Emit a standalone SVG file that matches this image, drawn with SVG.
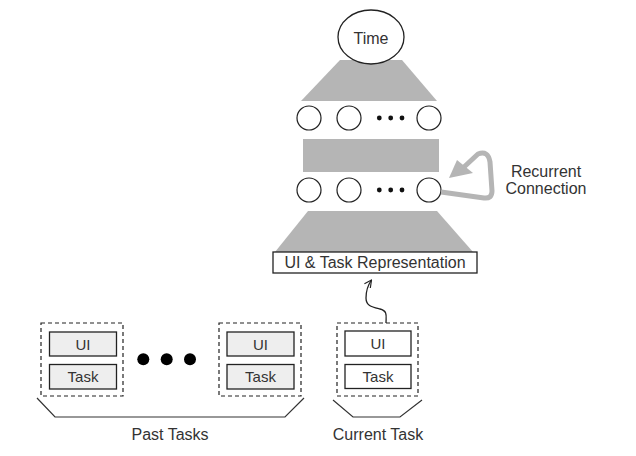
<svg xmlns="http://www.w3.org/2000/svg" width="636" height="456" viewBox="0 0 636 456">
  <defs>
    <style>
      .txt { font-family: "Liberation Sans", Arial, sans-serif; font-size: 16px; fill: #333; text-anchor: middle; }
      .sm { font-size: 15px; }
      .gray { fill: #b5b5b5; stroke: none; }
      .unit { fill: #fff; stroke: #222; stroke-width: 1.2; }
      .box { stroke: #222; stroke-width: 1.3; }
      .dash { fill: none; stroke: #222; stroke-width: 1.2; stroke-dasharray: 4 3; }
      .line { fill: none; stroke: #333; stroke-width: 1.2; }
    </style>
    <marker id="open" viewBox="0 0 10 10" refX="9" refY="5" markerWidth="9" markerHeight="9" orient="auto" markerUnits="userSpaceOnUse">
      <path d="M1,1 L9,5 L1,9" fill="none" stroke="#222" stroke-width="1.3"/>
    </marker>
  </defs>
  <rect width="636" height="456" fill="#fff"/>

  <g id="network">
    <polygon class="gray" points="340,60 402,60 437,101 301,101"/>
    <rect class="gray" x="303" y="139" width="136" height="33"/>
    <polygon class="gray" points="308,211 437,211 473,252 275,252"/>
  </g>

  <g id="time">
    <ellipse cx="371" cy="37" rx="33" ry="27" fill="#fff" stroke="#222" stroke-width="1.3"/>
    <text class="txt" x="371" y="44">Time</text>
  </g>

  <g id="layer1">
    <circle class="unit" cx="309" cy="118" r="12"/>
    <circle class="unit" cx="349" cy="118" r="12"/>
    <circle cx="379.3" cy="118" r="2.4" fill="#111"/>
    <circle cx="390.7" cy="118" r="2.4" fill="#111"/>
    <circle cx="402" cy="118" r="2.4" fill="#111"/>
    <circle class="unit" cx="429" cy="118" r="12"/>
  </g>

  <g id="layer2">
    <circle class="unit" cx="309" cy="190" r="12"/>
    <circle class="unit" cx="349" cy="190" r="12"/>
    <circle cx="379.3" cy="190" r="2.4" fill="#111"/>
    <circle cx="390.7" cy="190" r="2.4" fill="#111"/>
    <circle cx="402" cy="190" r="2.4" fill="#111"/>
    <circle class="unit" cx="429" cy="190" r="12"/>
  </g>

  <g id="representation">
    <rect class="box" x="273" y="252" width="204" height="21" fill="#fff"/>
    <text class="txt" x="375" y="268">UI &amp; Task Representation</text>
  </g>

  <g id="recurrent-label">
    <text class="txt" x="546" y="177">Recurrent</text>
    <text class="txt" x="546" y="194">Connection</text>
  </g>

  <g id="past-task-1">
    <rect class="dash" x="41" y="323" width="82" height="73"/>
    <rect class="box" x="49.5" y="332" width="67" height="24" fill="#eee"/>
    <text class="txt sm" x="83" y="350">UI</text>
    <rect class="box" x="49.5" y="364.5" width="67" height="24.5" fill="#eee"/>
    <text class="txt sm" x="83" y="382">Task</text>
  </g>

  <g id="ellipsis">
    <circle cx="143.3" cy="359.3" r="6" fill="#000"/>
    <circle cx="166.7" cy="359.3" r="6" fill="#000"/>
    <circle cx="190" cy="359.3" r="6" fill="#000"/>
  </g>

  <g id="past-task-n">
    <rect class="dash" x="219" y="323" width="82" height="73"/>
    <rect class="box" x="227" y="332" width="67" height="24" fill="#eee"/>
    <text class="txt sm" x="260.5" y="350">UI</text>
    <rect class="box" x="227" y="364.5" width="67" height="24.5" fill="#eee"/>
    <text class="txt sm" x="260.5" y="382">Task</text>
  </g>

  <g id="current-task">
    <rect class="dash" x="337" y="323" width="81" height="73"/>
    <rect class="box" x="345" y="331" width="66" height="25" fill="#fff"/>
    <text class="txt sm" x="378" y="349">UI</text>
    <rect class="box" x="345" y="364.5" width="66" height="24" fill="#fff"/>
    <text class="txt sm" x="378" y="382">Task</text>
  </g>

  <g id="past-tasks-label">
    <polyline class="line" points="37,398 55,417 285,417 304,398"/>
    <text class="txt" x="170" y="440">Past Tasks</text>
  </g>

  <g id="current-task-label">
    <polyline class="line" points="333,400 353,417 400,417 422,400"/>
    <text class="txt" x="378" y="440">Current Task</text>
  </g>

  <g id="connectors">
    <path d="M441,192 L484,198 Q492,199 492,191 L490,162 Q488,150 478,154 L464,167" fill="none" stroke="#b5b5b5" stroke-width="5" stroke-linejoin="round"/>
    <polygon points="449,178 457,160 473,173" fill="#b5b5b5"/>
    <path d="M386,323 C386,316 388,311 380,309 C372,307 366,306 366,298 C366,290 368,285 371.5,280" fill="none" stroke="#222" stroke-width="1.3" marker-end="url(#open)"/>
  </g>
</svg>
